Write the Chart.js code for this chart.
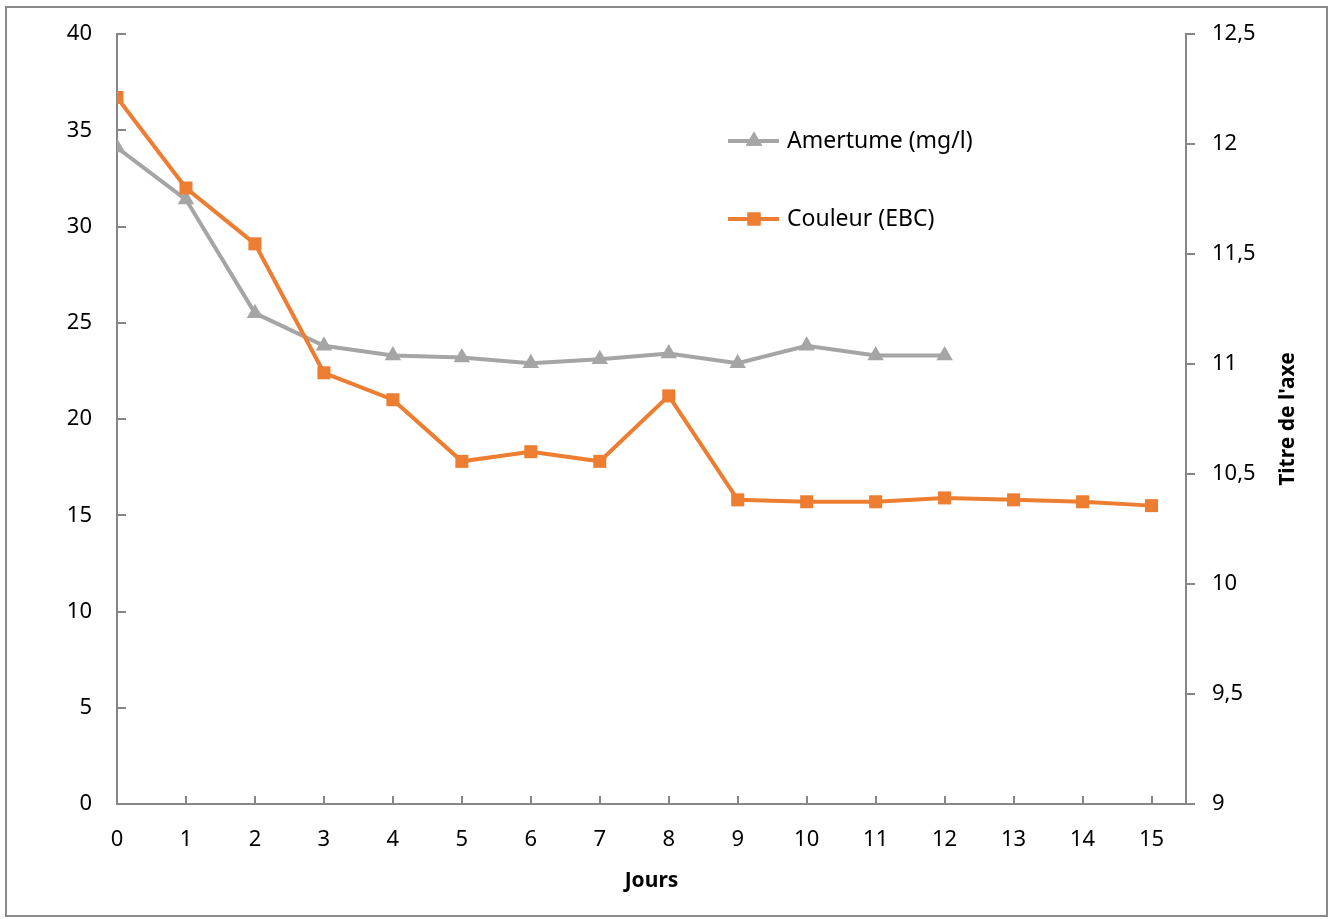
<!DOCTYPE html>
<html><head><meta charset="utf-8">
<script src="https://cdn.jsdelivr.net/npm/chart.js@4/dist/chart.umd.min.js"></script>
<style>html,body{margin:0;padding:0;background:#fff;}#wrap{position:relative;width:1334px;height:919px;}</style>
</head><body><div id="wrap"><canvas id="c" width="1334" height="919"></canvas></div>
<script>
const days = [0,1,2,3,4,5,6,7,8,9,10,11,12,13,14,15];
const amertume = [34.1,31.4,25.5,23.8,23.3,23.2,22.9,23.1,23.4,22.9,23.8,23.3,23.3];
const couleur = [36.7,32.0,29.1,22.4,21.0,17.8,18.3,17.8,21.2,15.8,15.7,15.7,15.9,15.8,15.7,15.5];
const leftTicks = [0,5,10,15,20,25,30,35,40];
const rightTicks = [9,9.5,10,10.5,11,11.5,12,12.5];
const seriesNames = ['Amertume (mg/l)','Couleur (EBC)'];
const xTitle = 'Jours';
const rightTitle = "Titre de l'axe";

const FONT = 'Noto Sans';
const AXIS = '#868686';
const GRAY = '#A5A5A5';
const ORANGE = '#ED7D31';

const extras = {
  id: 'extras',
  afterDraw(chart) {
    const ctx = chart.ctx;
    const ca = chart.chartArea;
    const sx = chart.scales.x, sy = chart.scales.y, sy2 = chart.scales.y2;
    ctx.save();
    ctx.strokeStyle = '#8a8a8a'; ctx.lineWidth = 2;
    ctx.strokeRect(6, 7, 1321, 909);
    ctx.strokeStyle = AXIS; ctx.lineWidth = 2;
    ctx.beginPath();
    leftTicks.forEach(v => { const y = Math.round(sy.getPixelForValue(v)); ctx.moveTo(ca.left, y); ctx.lineTo(ca.left + 9, y); });
    days.forEach(v => { if (v === 0) return; const x = Math.round(sx.getPixelForValue(v)); ctx.moveTo(x, ca.bottom); ctx.lineTo(x, ca.bottom - 8); });
    rightTicks.forEach(v => { const y = Math.round(sy2.getPixelForValue(v)); ctx.moveTo(ca.right, y); ctx.lineTo(ca.right + 9, y); });
    ctx.stroke();
    ctx.fillStyle = '#000';
    ctx.font = 'bold 21px "' + FONT + '"';
    ctx.textAlign = 'center'; ctx.textBaseline = 'middle';
    ctx.translate(1288, (ca.top + ca.bottom) / 2);
    ctx.rotate(-Math.PI / 2);
    ctx.fillText(rightTitle, 0, 0);
    ctx.restore();
    ctx.save();
    const rows = [141, 219];
    chart.data.datasets.forEach((ds, i) => {
      const y = rows[i];
      ctx.strokeStyle = ds.borderColor; ctx.lineWidth = 4;
      ctx.beginPath(); ctx.moveTo(728, y); ctx.lineTo(779, y); ctx.stroke();
      ctx.fillStyle = ds.borderColor;
      Chart.helpers.drawPoint(ctx, {pointStyle: ds.pointStyle, radius: ds.pointRadius, borderWidth: 0, rotation: 0}, 754, y);
      ctx.fill();
      ctx.fillStyle = '#000';
      ctx.font = '23px "' + FONT + '"';
      ctx.textAlign = 'left'; ctx.textBaseline = 'middle';
      ctx.fillText(ds.label, 787, y);
    });
    ctx.restore();
  }
};

function fixV(w) { return s => { s.width = w; s.paddingTop = 0; s.paddingBottom = 0; }; }

new Chart(document.getElementById('c'), {
  type: 'line',
  data: {
    datasets: [
      { label: seriesNames[0], data: amertume.map((v, i) => ({x: days[i], y: v})),
        borderColor: GRAY, backgroundColor: GRAY, borderWidth: 4,
        pointStyle: 'triangle', pointRadius: 9.5, pointBorderWidth: 0, pointBackgroundColor: GRAY,
        yAxisID: 'y', order: 1, tension: 0 },
      { label: seriesNames[1], data: couleur.map((v, i) => ({x: days[i], y: v})),
        borderColor: ORANGE, backgroundColor: ORANGE, borderWidth: 4,
        pointStyle: 'rect', pointRadius: 9.2, pointBorderWidth: 0, pointBackgroundColor: ORANGE,
        yAxisID: 'y', order: 0, tension: 0 }
    ]
  },
  options: {
    responsive: false, animation: false, devicePixelRatio: 1,
    layout: { padding: { top: 34, left: 0, right: 0, bottom: 0 } },
    plugins: { legend: { display: false }, tooltip: { enabled: false } },
    scales: {
      x: {
        type: 'linear', position: 'bottom', min: 0, max: 15.5,
        afterBuildTicks: s => { s.ticks = days.map(v => ({value: v})); },
        afterFit: s => { s.height = 115; s.paddingLeft = 0; s.paddingRight = 0; },
        grid: { display: false, drawTicks: false },
        border: { display: true, color: AXIS, width: 2 },
        ticks: { color: '#000', font: { family: FONT, size: 22 }, padding: 23, autoSkip: false, maxRotation: 0, callback: v => String(v) },
        title: { display: true, text: xTitle, color: '#000', font: { family: FONT, size: 21, weight: 'bold' }, padding: { top: 0, bottom: 25 } }
      },
      y: {
        position: 'left', min: 0, max: 40,
        afterBuildTicks: s => { s.ticks = leftTicks.map(v => ({value: v})); },
        afterFit: fixV(117),
        grid: { display: false, drawTicks: false },
        border: { display: true, color: AXIS, width: 2 },
        ticks: { color: '#000', font: { family: FONT, size: 22 }, padding: 25, callback: v => String(v) }
      },
      y2: {
        position: 'right', min: 9, max: 12.5,
        afterBuildTicks: s => { s.ticks = rightTicks.map(v => ({value: v})); },
        afterFit: fixV(148),
        grid: { display: false, drawTicks: false },
        border: { display: true, color: AXIS, width: 2 },
        ticks: { color: '#000', font: { family: FONT, size: 22 }, padding: 26, callback: v => String(v).replace('.', ',') }
      }
    }
  },
  plugins: [extras]
});
</script>
</body></html>
